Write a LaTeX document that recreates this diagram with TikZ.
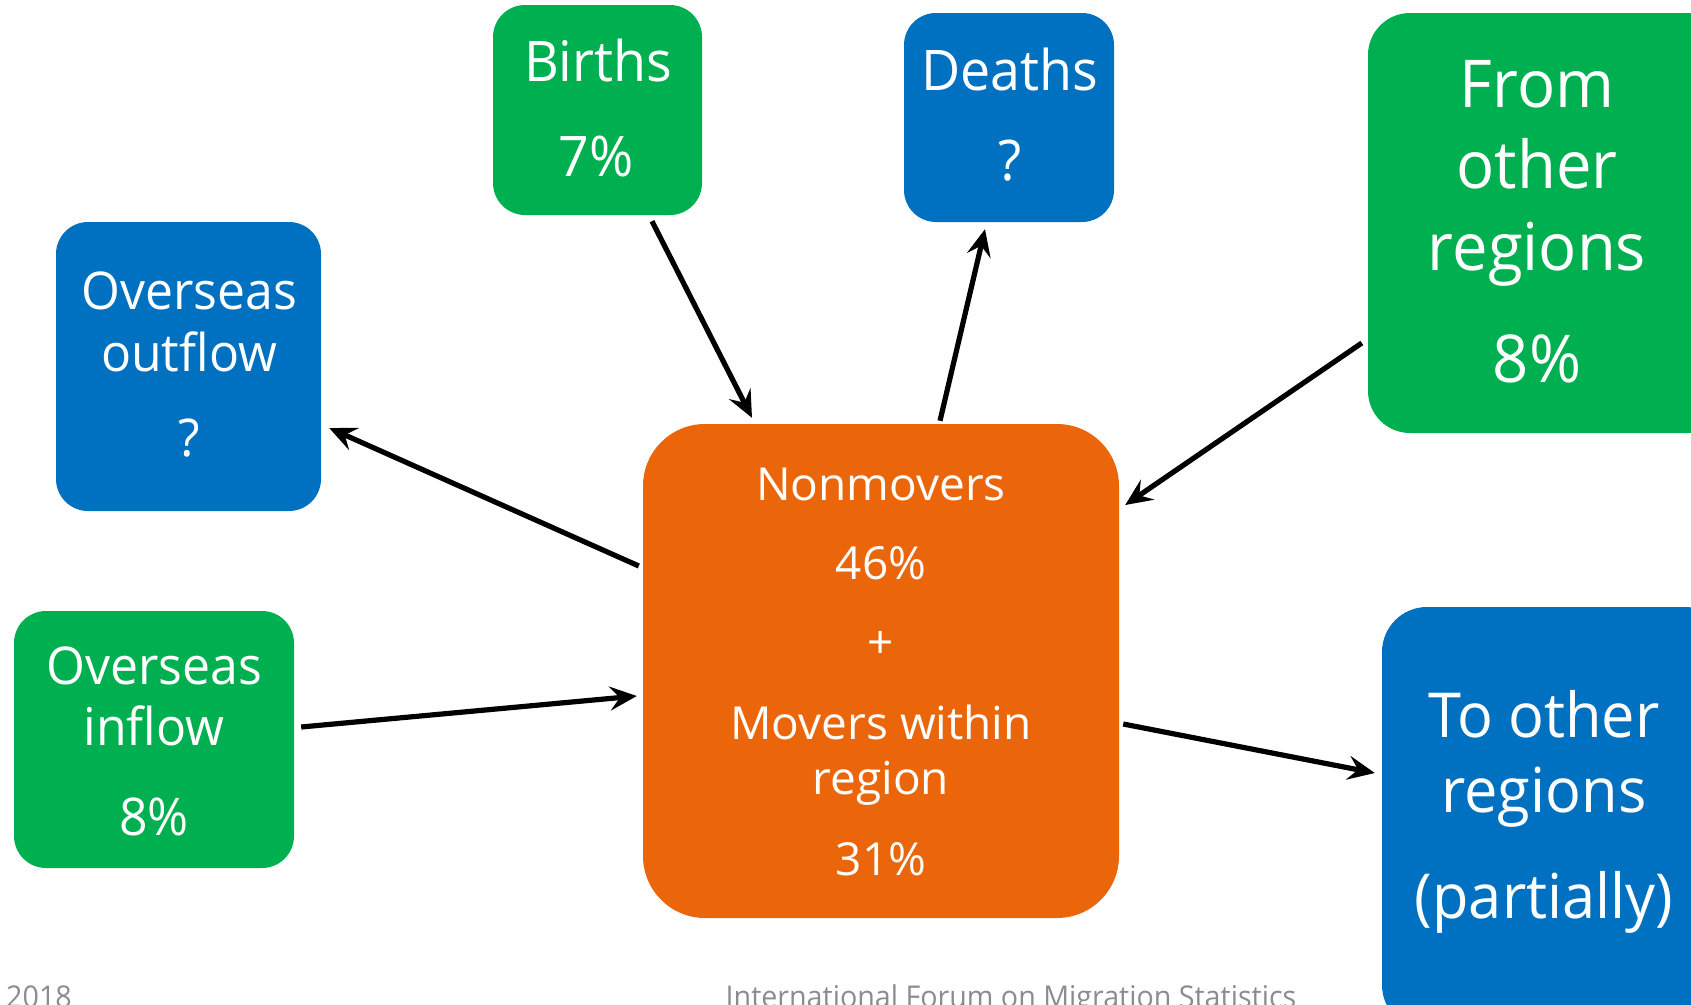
\documentclass[tikz,border=0pt]{standalone}
\usepackage{fontspec}
\setmainfont[FakeStretch=0.96]{Open Sans}
\newfontfamily\midfont[FakeStretch=1.01]{Open Sans}
\newfontfamily\footfont[FakeStretch=0.955]{Open Sans}
\usetikzlibrary{arrows.meta}
\definecolor{bgreen}{HTML}{00B050}
\definecolor{bblue}{HTML}{0070C0}
\definecolor{borange}{HTML}{EB660A}
\definecolor{footgray}{HTML}{8C8C8C}
\begin{document}
\begin{tikzpicture}[x=1pt,y=1pt,
  box/.style={draw=none, rounded corners=32pt, inner sep=0pt},
  txt/.style={anchor=base, text=white, inner sep=0pt},
  arr/.style={line width=5.2pt, -{Stealth[length=27pt,width=24pt,inset=10pt]}},
  fbig/.style={font=\fontsize{66}{70}\selectfont},
  fto/.style={font=\fontsize{62}{66}\selectfont},
  ftop/.style={font=\fontsize{56}{60}\selectfont},
  fside/.style={font=\fontsize{52}{56}\selectfont},
  fmid/.style={font=\midfont\fontsize{45.5}{50}\selectfont},
  ffoot/.style={font=\footfont\fontsize{30}{32}\selectfont, text=footgray, anchor=base, inner sep=0pt}]
\useasboundingbox (0,0) rectangle (1691,-1004);
\clip (0,0) rectangle (1691,-1004);

% boxes
\node[box, fill=bgreen, minimum width=209pt, minimum height=210pt] (births) at (597.5,-110) {};
\node[box, fill=bblue, minimum width=210pt, minimum height=209pt] (deaths) at (1009,-117.5) {};
\node[box, fill=bblue, minimum width=265pt, minimum height=289pt] (outflow) at (188.5,-366.5) {};
\node[box, fill=bgreen, minimum width=280pt, minimum height=257pt] (inflow) at (154,-739.5) {};
\node[box, fill=borange, rounded corners=62pt, minimum width=476pt, minimum height=494pt] (center) at (881,-671) {};
\node[box, fill=bgreen, rounded corners=42pt, minimum width=362pt, minimum height=420pt] (from) at (1549,-223) {};
\node[box, fill=bblue, rounded corners=45pt, minimum width=348pt, minimum height=423pt] (to) at (1556,-818.5) {};

% texts
\node[txt, ftop] (tb1) at (598,-81) {Births};
\node[txt, ftop] (tb2) at (596,-176) {7\%};
\node[txt, ftop] (td1) at (1010,-90) {Deaths};
\node[txt, ftop] (td2) at (1010,-180) {?};
\node[txt, fside] (to1) at (189,-309) {Overseas};
\node[txt, fside] (to2) at (189,-371) {outflow};
\node[txt, fside] (to3) at (189,-456) {?};
\node[txt, fside] (ti1) at (154,-684) {Overseas};
\node[txt, fside] (ti2) at (154,-745) {inflow};
\node[txt, fside] (ti3) at (154,-835) {8\%};
\node[txt, fmid] (tc1) at (881,-500) {Nonmovers};
\node[txt, fmid] (tc2) at (881,-579) {46\%};
\node[txt, fmid] (tc3) at (881,-658) {+};
\node[txt, fmid] (tc4) at (881,-739) {Movers within};
\node[txt, fmid] (tc5) at (881,-794) {region};
\node[txt, fmid] (tc6) at (881,-875) {31\%};
\node[txt, fbig] (tf1) at (1537,-107) {From};
\node[txt, fbig] (tf2) at (1537,-188) {other};
\node[txt, fbig] (tf3) at (1537,-270) {regions};
\node[txt, fbig] (tf4) at (1537,-382) {8\%};
\node[txt, fto] (tt1) at (1544,-737) {To other};
\node[txt, fto] (tt2) at (1544,-812) {regions};
\node[txt, fto] (tt3) at (1544,-918) {(partially)};

% footer
\node[ffoot] (year) at (39,-1007) {2018};
\node[ffoot] (forum) at (1011,-1007) {International Forum on Migration Statistics};

% arrows
\draw[arr] ([xshift=54.5pt,yshift=-6pt]births.south) -- ([xshift=-129pt,yshift=6pt]center.north);
\draw[arr] ([xshift=59pt,yshift=3pt]center.north) -- ([xshift=-24pt,yshift=-7pt]deaths.south);
\draw[arr] ([xshift=-6pt,yshift=-120pt]from.west) -- ([xshift=6pt,yshift=166pt]center.east);
\draw[arr] ([xshift=-4pt,yshift=105pt]center.west) -- ([xshift=8pt,yshift=-61.5pt]outflow.east);
\draw[arr] ([xshift=7pt,yshift=12.5pt]inflow.east) -- ([xshift=-6pt,yshift=-25pt]center.west);
\draw[arr] ([xshift=4pt,yshift=-53pt]center.east) -- ([xshift=-7pt,yshift=45.5pt]to.west);
\end{tikzpicture}
\end{document}
